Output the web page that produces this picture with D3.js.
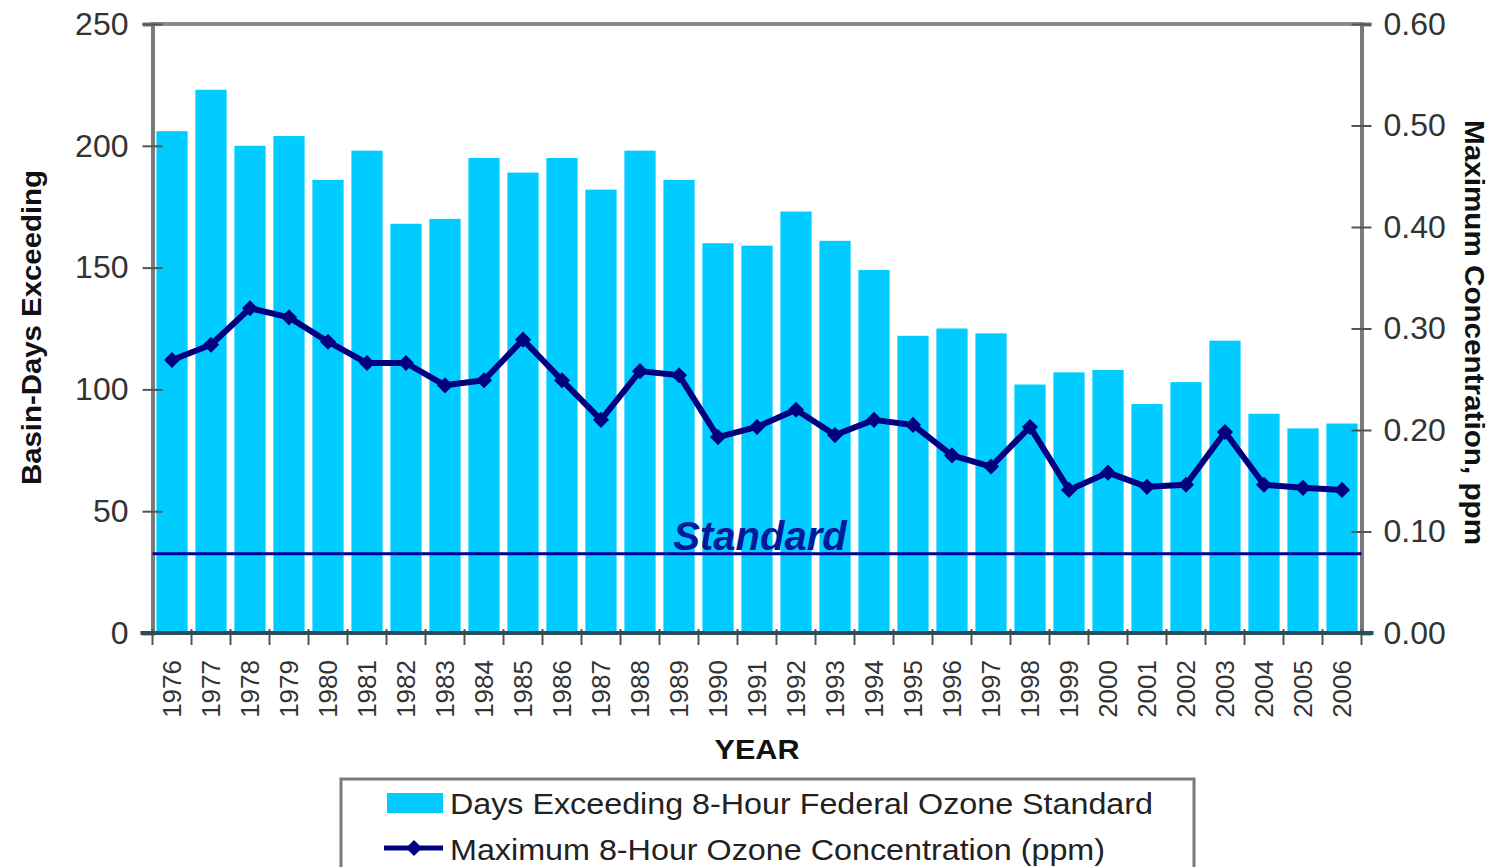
<!DOCTYPE html>
<html>
<head>
<meta charset="utf-8">
<script src="https://cdn.jsdelivr.net/npm/d3@7"></script>
<style>
  html, body { margin: 0; padding: 0; background: #fff; }
  svg { display: block; font-family: "Liberation Sans", Arial, sans-serif; }
</style>
</head>
<body>
<svg id="chart" width="1493" height="867"></svg>
<script>
const years = ["1976","1977","1978","1979","1980","1981","1982","1983","1984","1985","1986","1987","1988","1989","1990","1991","1992","1993","1994","1995","1996","1997","1998","1999","2000","2001","2002","2003","2004","2005","2006"];
const daysExceeding = [206,223,200,204,186,198,168,170,195,189,195,182,198,186,160,159,173,161,149,122,125,123,102,107,108,94,103,120,90,84,86];
const maxConcentration = [0.269,0.284,0.320,0.311,0.287,0.266,0.266,0.244,0.249,0.289,0.249,0.210,0.258,0.254,0.193,0.203,0.220,0.195,0.210,0.205,0.175,0.164,0.203,0.141,0.158,0.144,0.146,0.198,0.146,0.143,0.141];
const leftTicks = [0,50,100,150,200,250];
const rightTicks = [0,0.1,0.2,0.3,0.4,0.5,0.6];
const standardPpm = 0.078;
const legendLabels = ["Days Exceeding 8-Hour Federal Ozone Standard","Maximum 8-Hour Ozone Concentration (ppm)"];

const svg = d3.select("#chart");
const L = 152.5, R = 1361.5, T = 24, B = 633;

const x = d3.scaleBand().domain(years).range([L, R]).paddingInner(0.2).paddingOuter(0.1);
const yL = d3.scaleLinear().domain([0, 250]).range([B, T]);
const yR = d3.scaleLinear().domain([0, 0.6]).range([B, T]);
const step = x.step();
const bw = x.bandwidth();

// bars
svg.append("g").selectAll("rect").data(years).join("rect")
  .attr("x", d => x(d))
  .attr("y", (d, i) => yL(daysExceeding[i]))
  .attr("width", bw)
  .attr("height", (d, i) => B - yL(daysExceeding[i]))
  .attr("fill", "#00CCFF");

// frame lines
svg.append("line").attr("x1", L - 2).attr("x2", R + 2).attr("y1", T).attr("y2", T)
  .attr("stroke", "#8a8a8a").attr("stroke-width", 4);

// left axis
const gl = svg.append("g").attr("transform", `translate(${L},0)`)
  .call(d3.axisLeft(yL).tickValues(leftTicks).tickSize(10).tickPadding(14).tickFormat(d3.format("d")));
gl.select(".domain").attr("stroke", "#7a7a7a").attr("stroke-width", 4);
gl.selectAll(".tick line").attr("stroke", "#555").attr("stroke-width", 2).attr("x2", 10).attr("x1", -10);
gl.selectAll(".tick text").attr("font-size", 32).attr("fill", "#333").attr("x", -24);

// right axis
const gr = svg.append("g").attr("transform", `translate(${R},0)`)
  .call(d3.axisRight(yR).tickValues(rightTicks).tickSize(10).tickPadding(14).tickFormat(d3.format(".2f")));
gr.select(".domain").attr("stroke", "#7a7a7a").attr("stroke-width", 4);
gr.selectAll(".tick line").attr("stroke", "#555").attr("stroke-width", 2).attr("x1", -10).attr("x2", 10);
gr.selectAll(".tick text").attr("font-size", 32).attr("fill", "#333").attr("x", 22);

// bottom axis line and boundary ticks
const boundaries = years.map(d => x(d) - step * x.paddingInner() / 2).concat([x(years[years.length - 1]) + bw + step * x.paddingInner() / 2]);
svg.append("g").selectAll("line").data(boundaries).join("line")
  .attr("x1", d => d).attr("x2", d => d).attr("y1", B - 4).attr("y2", B + 12)
  .attr("stroke", "#555").attr("stroke-width", 2);
svg.append("line").attr("x1", L - 12).attr("x2", R + 12).attr("y1", B).attr("y2", B)
  .attr("stroke", "#2b4d55").attr("stroke-width", 4);

// year labels
svg.append("g").selectAll("text").data(years).join("text")
  .attr("transform", d => `translate(${x(d) + bw / 2},660) rotate(-90)`)
  .attr("text-anchor", "end").attr("dy", "0.36em")
  .attr("font-size", 26).attr("fill", "#333")
  .text(d => d);

// standard line
svg.append("line").attr("x1", L).attr("x2", R).attr("y1", yR(standardPpm)).attr("y2", yR(standardPpm))
  .attr("stroke", "#000099").attr("stroke-width", 3);
svg.append("text").attr("x", 760).attr("y", yR(standardPpm) - 4).attr("text-anchor", "middle")
  .attr("font-size", 40).attr("font-weight", "bold").attr("font-style", "italic").attr("fill", "#001a99")
  .text("Standard");

// concentration line
const line = d3.line().x((d, i) => x(years[i]) + bw / 2).y(d => yR(d));
svg.append("path").datum(maxConcentration).attr("d", line)
  .attr("fill", "none").attr("stroke", "#000080").attr("stroke-width", 6).attr("stroke-linejoin", "round");
const sym = d3.symbol().type(d3.symbolSquare).size(130);
svg.append("g").selectAll("path").data(maxConcentration).join("path")
  .attr("transform", (d, i) => `translate(${x(years[i]) + bw / 2},${yR(d)}) rotate(45)`)
  .attr("d", sym).attr("fill", "#000080");

// axis titles
svg.append("text").attr("transform", `translate(41,${(170 + 485) / 2}) rotate(-90)`)
  .attr("text-anchor", "middle").attr("font-size", 28).attr("font-weight", "bold").attr("fill", "#111")
  .attr("textLength", 315).attr("lengthAdjust", "spacingAndGlyphs")
  .text("Basin-Days Exceeding");
svg.append("text").attr("transform", `translate(1465,${(120 + 545) / 2}) rotate(90)`)
  .attr("text-anchor", "middle").attr("font-size", 28).attr("font-weight", "bold").attr("fill", "#111")
  .attr("textLength", 425).attr("lengthAdjust", "spacingAndGlyphs")
  .text("Maximum Concentration, ppm");
svg.append("text").attr("x", 757).attr("y", 759).attr("text-anchor", "middle")
  .attr("font-size", 28).attr("font-weight", "bold").attr("fill", "#111")
  .attr("textLength", 85).attr("lengthAdjust", "spacingAndGlyphs").text("YEAR");

// legend
const lg = svg.append("g");
lg.append("rect").attr("x", 341).attr("y", 779).attr("width", 853).attr("height", 110)
  .attr("fill", "#fff").attr("stroke", "#7a7a7a").attr("stroke-width", 3);
lg.append("rect").attr("x", 387).attr("y", 793).attr("width", 56).attr("height", 20).attr("fill", "#00CCFF");
lg.append("text").attr("x", 450).attr("y", 814).attr("font-size", 30).attr("fill", "#222")
  .attr("textLength", 703).attr("lengthAdjust", "spacingAndGlyphs").text(legendLabels[0]);
lg.append("line").attr("x1", 384).attr("x2", 443).attr("y1", 848).attr("y2", 848)
  .attr("stroke", "#000080").attr("stroke-width", 5);
lg.append("path").attr("transform", "translate(414,848) rotate(45)").attr("d", sym).attr("fill", "#000080");
lg.append("text").attr("x", 450).attr("y", 860).attr("font-size", 30).attr("fill", "#222")
  .attr("textLength", 655).attr("lengthAdjust", "spacingAndGlyphs").text(legendLabels[1]);
</script>
</body>
</html>
